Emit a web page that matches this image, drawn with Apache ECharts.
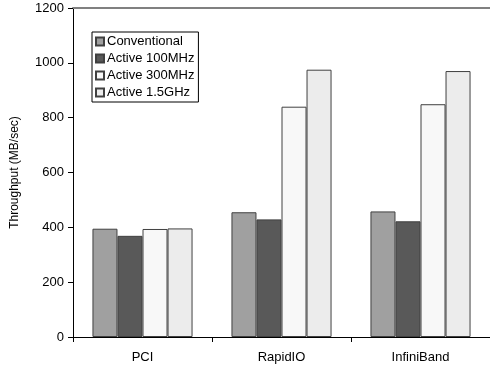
<!DOCTYPE html>
<html>
<head>
<meta charset="utf-8">
<script src="https://cdn.jsdelivr.net/npm/echarts@6/dist/echarts.min.js"></script>
<style>
html, body { margin: 0; padding: 0; background: #fff; }
#main { width: 490px; height: 368px; }
</style>
</head>
<body>
<div id="main"></div>
<script>
var categories = ['PCI', 'RapidIO', 'InfiniBand'];
var seriesNames = ['Conventional', 'Active 100MHz', 'Active 300MHz', 'Active 1.5GHz'];
var conventional = [395, 455, 458];
var active100 = [369, 429, 422];
var active300 = [394, 840, 849];
var active15 = [396, 975, 970];
var barColors = ['#a0a0a0', '#595959', '#f8f8f8', '#ececec'];

var myChart = echarts.init(document.getElementById('main'));

var seriesData = [conventional, active100, active300, active15];

var option = {
    animation: false,
    textStyle: {
        fontFamily: 'Liberation Sans, Arial, sans-serif',
    },
    grid: {
        left: 73,
        right: -3,
        top: 8,
        bottom: 31,
    },
    legend: {
        orient: 'vertical',
        left: 92,
        top: 32,
        data: seriesNames,
        icon: 'rect',
        itemWidth: 8,
        itemHeight: 8,
        itemGap: 4,
        padding: [3, 4, 3, 3],
        borderColor: '#000',
        borderWidth: 1,
        textStyle: {
            color: '#000',
            fontSize: 13,
            padding: [0, 0, 0, -2],
        },
    },
    xAxis: [{
        type: 'category',
        data: categories,
        axisLine: {
            lineStyle: { color: '#000', width: 1 },
        },
        axisTick: {
            show: true,
            length: 5,
            lineStyle: { color: '#000' },
        },
        axisLabel: {
            color: '#000',
            fontSize: 13,
            margin: 14,
        },
    }, {
        type: 'category',
        position: 'top',
        data: categories,
        axisLine: {
            lineStyle: { color: '#808080', width: 2 },
        },
        axisTick: { show: false },
        axisLabel: { show: false },
    }],
    yAxis: {
        type: 'value',
        min: 0,
        max: 1200,
        interval: 200,
        name: 'Throughput (MB/sec)',
        nameLocation: 'middle',
        nameGap: 52,
        nameTextStyle: {
            color: '#000',
            fontSize: 12,
        },
        axisLine: {
            show: true,
            lineStyle: { color: '#000', width: 1 },
        },
        axisTick: {
            show: true,
            length: 5,
            lineStyle: { color: '#000' },
        },
        axisLabel: {
            color: '#000',
            fontSize: 13,
            margin: 9,
            formatter: function (value) {
                return String(value);
            }
        },
        splitLine: { show: false },
    },
    series: seriesNames.map(function (name, i) {
        return {
            name: name,
            type: 'bar',
            data: seriesData[i],
            barGap: '0%',
            barCategoryGap: '28%',
            itemStyle: {
                color: barColors[i],
                borderColor: '#404040',
                borderWidth: 1,
            },
        };
    }),
};

myChart.setOption(option);
</script>
</body>
</html>
